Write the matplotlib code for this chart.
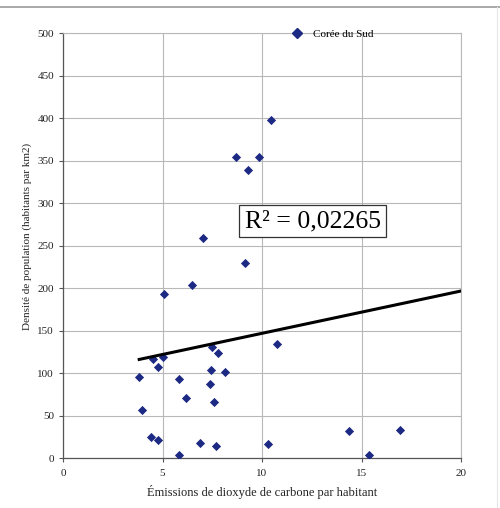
import matplotlib
matplotlib.use("Agg")
import matplotlib.pyplot as plt
from matplotlib.lines import Line2D
import numpy as np

# Data
emissions = [10.44, 8.69, 9.87, 9.28, 7.05, 9.15, 6.47, 5.08, 7.47, 7.80, 10.74,
             4.51, 5.04, 4.76, 3.83, 5.85, 7.44, 8.13, 7.40, 6.20, 7.60, 3.95,
             4.41, 4.76, 6.87, 7.69, 10.32, 5.81, 14.39, 15.38, 16.95]
densite = [397.6, 353.8, 354.5, 338.8, 258.8, 229.5, 203.5, 193.0, 131.0, 123.9, 134.0,
           116.8, 118.5, 107.4, 94.9, 92.6, 103.9, 100.8, 86.7, 70.2, 65.5, 56.8,
           24.3, 21.2, 17.3, 13.8, 17.0, 3.9, 31.4, 3.9, 32.9]
series_name = "Corée du Sud"
trend_slope = 4.98
trend_intercept = 96.9
trend_xmax = 20
r2_text = "R² = 0,02265"
x_ticks = [0, 5, 10, 15, 20]
y_ticks = list(range(0, 501, 50))

plt.rcParams['font.family'] = ['Liberation Serif', 'DejaVu Serif']

fig = plt.figure(figsize=(5.0, 5.08), dpi=100)
ax = fig.add_axes([0.126, 0.0984, 0.796, 0.8366])

ax.scatter(emissions, densite, marker='D', s=22, color='#1c2a84', zorder=3,
           linewidths=0)
tx = np.array([min(emissions), trend_xmax])
ax.plot(tx, trend_slope * tx + trend_intercept, color='black', lw=2.2, zorder=4)

ax.set_xlim(0, 20)
ax.set_ylim(0, 500)
ax.set_xticks(x_ticks)
ax.set_yticks(y_ticks)
ax.grid(True, color='#b8b8b8', lw=0.8)
ax.set_axisbelow(True)
for s in ['top', 'right']:
    ax.spines[s].set_color('#b8b8b8')
    ax.spines[s].set_linewidth(0.8)
for s in ['left', 'bottom']:
    ax.spines[s].set_color('#555555')
    ax.spines[s].set_linewidth(0.9)
ax.tick_params(axis='both', labelsize=8, length=3, color='#555555', width=0.8,
               labelcolor='#222222')
ax.tick_params(axis='x', pad=5)

ax.set_xlabel("Émissions de dioxyde de carbone par habitant", fontsize=9,
              color='#222222', labelpad=5)
fig.text(27 / 500, 1 - 236 / 508, "Densité de population (habitants par km2)",
         fontsize=8, color='#222222', rotation=90, ha='center', va='center')

ax.text(12.54, 278.5, r2_text, fontsize=18.5, ha='center', va='center', zorder=5,
        bbox=dict(boxstyle='square,pad=0.2', fc='white', ec='#333333', lw=0.9))

handle = Line2D([], [], marker='D', ls='none', color='#1c2a84', markersize=5)
fig.legend([handle], [series_name], loc='center left',
           bbox_to_anchor=(0.583, 1 - 34 / 508), frameon=False, fontsize=8,
           handletextpad=0.9, borderaxespad=0, borderpad=0, handlelength=1.0)

fig.add_artist(Line2D([0, 1], [1 - 7 / 508, 1 - 7 / 508], color='#999999', lw=1.2,
                      transform=fig.transFigure))
fig.add_artist(Line2D([497 / 500, 497 / 500], [0, 1 - 7 / 508], color='#e6e6e6', lw=0.8,
                      transform=fig.transFigure))

fig.savefig("out.png", dpi=100)
